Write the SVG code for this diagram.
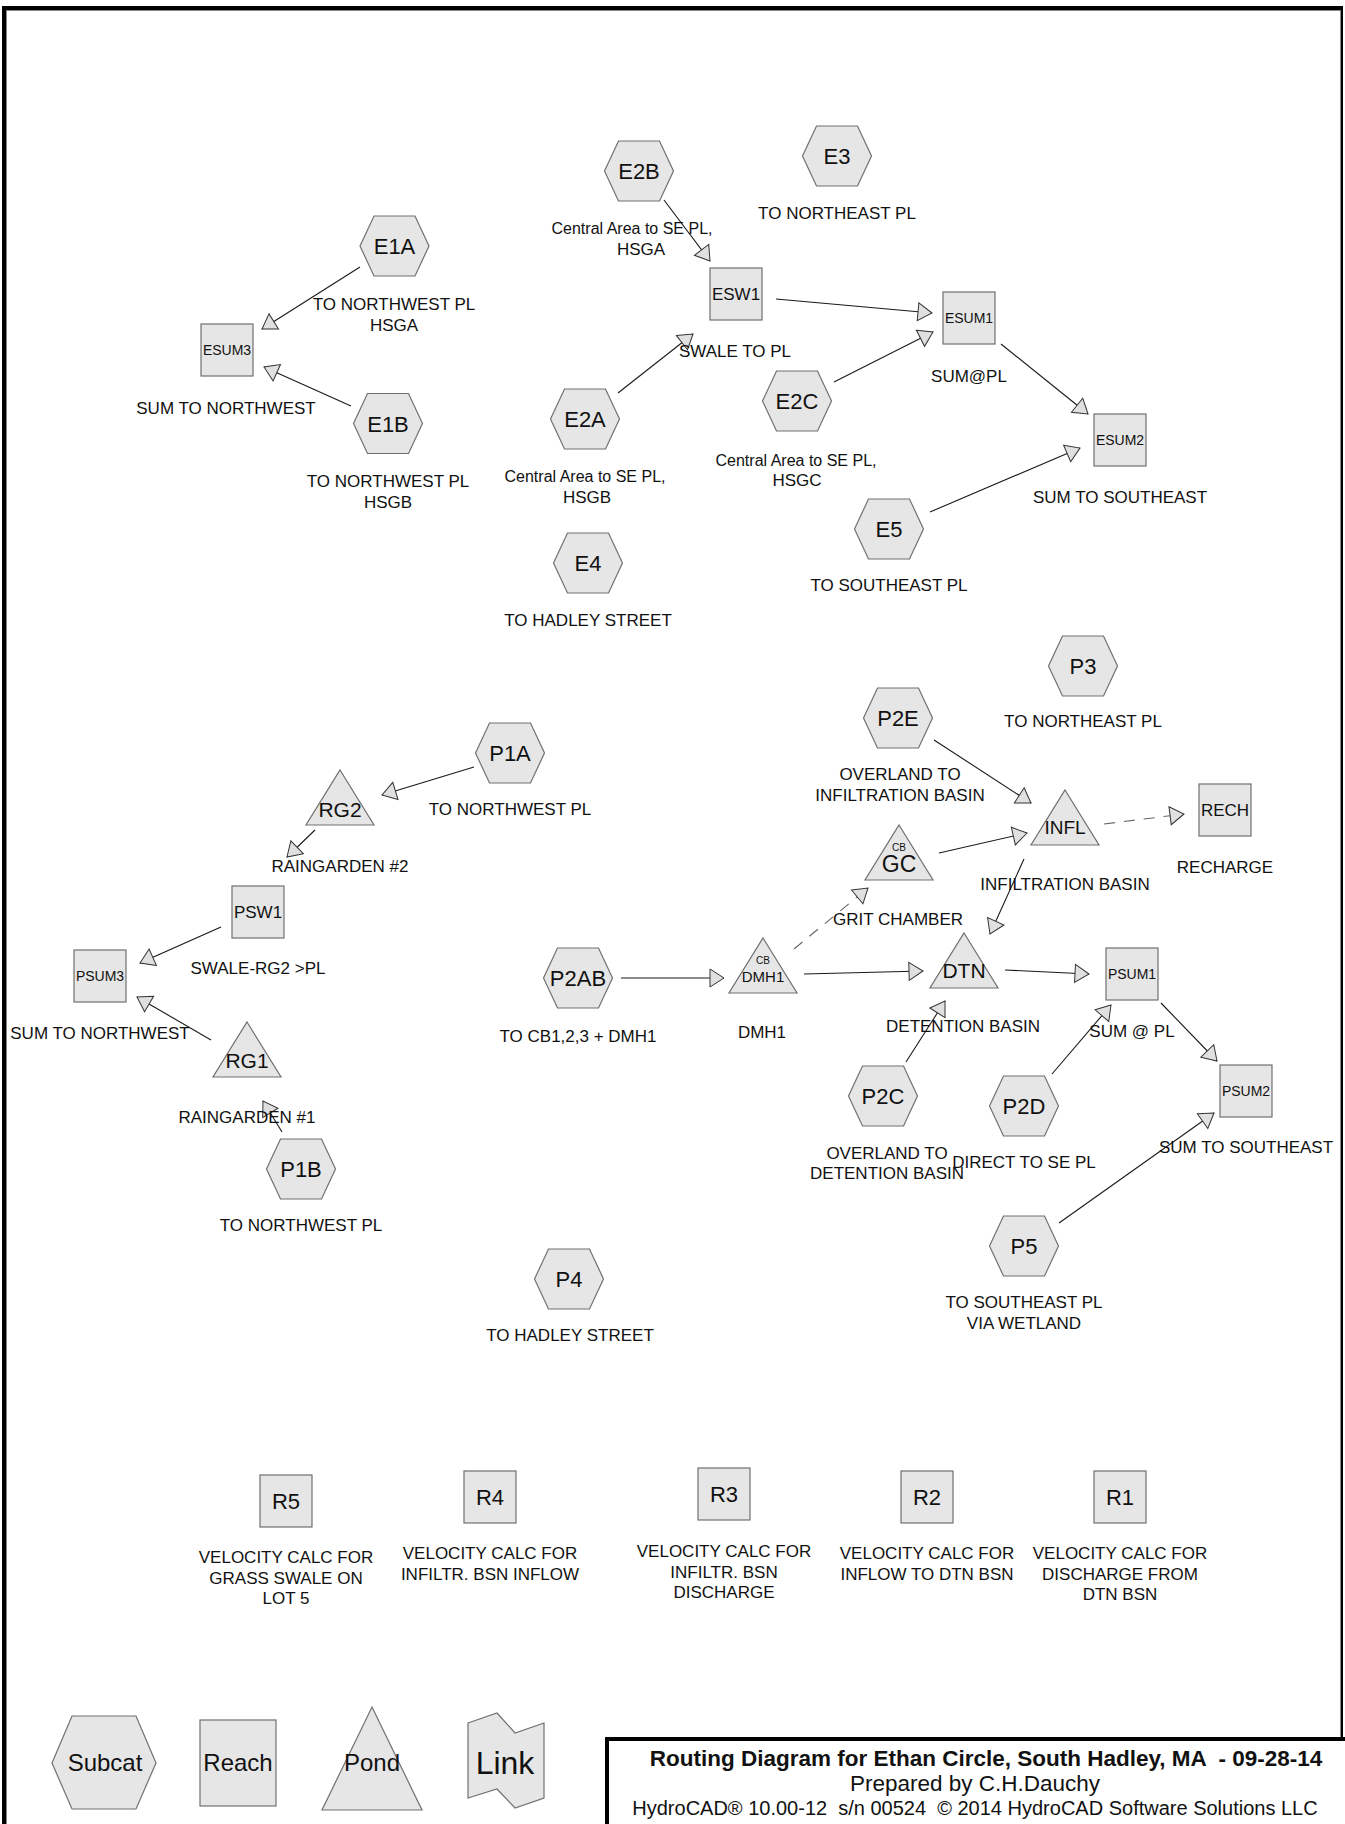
<svg xmlns="http://www.w3.org/2000/svg" xmlns:xlink="http://www.w3.org/1999/xlink" width="1345" height="1824" viewBox="0 0 1345 1824">
<style>
.t{font-family:"Liberation Sans",Arial,sans-serif;font-size:17px;text-anchor:middle;fill:#111}
.lc{font-size:16px}
.h{font-size:22px}
.s14{font-size:14px}
.s16{font-size:17px}
.s10{font-size:10px}
.c{stroke:#1a1a1a;stroke-width:1.1;fill:none;marker-end:url(#ah)}
.d{stroke:#666;stroke-dasharray:11 9}
.n{fill:#e6e6e6;stroke:#707070;stroke-width:1.2}
.lg{font-size:24px}
.tb{font-family:"Liberation Sans",Arial,sans-serif;text-anchor:middle;fill:#111;font-size:20px}
</style>
<defs>
<marker id="ah" markerUnits="userSpaceOnUse" viewBox="0 0 14 18" refX="14" refY="9" markerWidth="14" markerHeight="18" orient="auto" overflow="visible">
<path d="M0,0 L14,9 L0,18 Z" fill="#e0e0e0" stroke="#333" stroke-width="1"/>
</marker>
<polygon id="hex" points="-34.5,0 -20.5,-30 20.5,-30 34.5,0 20.5,30 -20.5,30" fill="#e6e6e6" stroke="#707070" stroke-width="1.2"/>
<rect id="sq" x="-26" y="-26" width="52" height="52" fill="#e6e6e6" stroke="#707070" stroke-width="1.2"/>
<polygon id="tri" points="0,0 34,55 -34,55" fill="#e6e6e6" stroke="#707070" stroke-width="1.2"/>
</defs>
<rect x="0" y="0" width="1345" height="1824" fill="#fff"/>
<!-- frame -->
<g id="frame">
<line x1="2" y1="8" x2="1343" y2="8" stroke="#000" stroke-width="4"/>
<line x1="4" y1="6" x2="4" y2="1824" stroke="#000" stroke-width="4"/>
<line x1="1342" y1="6" x2="1342" y2="1824" stroke="#000" stroke-width="2"/>
<line x1="6" y1="10.5" x2="1341" y2="10.5" stroke="#888" stroke-width="1"/>
<line x1="6.5" y1="10" x2="6.5" y2="1824" stroke="#888" stroke-width="1"/>
<line x1="1340.5" y1="10" x2="1340.5" y2="1824" stroke="#888" stroke-width="1"/>
</g>
<!-- connectors -->
<g id="connectors">
<line class="c" x1="360" y1="267" x2="262" y2="329"/>
<line class="c" x1="351" y1="406" x2="264" y2="367"/>
<line class="c" x1="664" y1="200" x2="710" y2="261"/>
<line class="c" x1="618" y1="393" x2="693" y2="334"/>
<line class="c" x1="776" y1="299" x2="932" y2="313"/>
<line class="c" x1="834" y1="382" x2="933" y2="332"/>
<line class="c" x1="1001" y1="344" x2="1088" y2="414"/>
<line class="c" x1="930" y1="512" x2="1080" y2="448"/>
<line class="c" x1="474" y1="767" x2="382" y2="795"/>
<line class="c" x1="315" y1="830" x2="287" y2="857"/>
<line class="c" x1="221" y1="927" x2="140" y2="963"/>
<line class="c" x1="211" y1="1040" x2="137" y2="997"/>
<line class="c" x1="282" y1="1132" x2="263" y2="1101"/>
<line class="c" x1="621" y1="978" x2="724" y2="978"/>
<line class="c d" x1="794" y1="949" x2="868" y2="888"/>
<line class="c" x1="804" y1="974" x2="923" y2="971"/>
<line class="c" x1="939" y1="853" x2="1027" y2="833"/>
<line class="c" x1="934" y1="740" x2="1031" y2="803"/>
<line class="c d" x1="1104" y1="824" x2="1184" y2="814"/>
<line class="c" x1="1024" y1="859" x2="990" y2="934"/>
<line class="c" x1="1005" y1="970" x2="1089" y2="974"/>
<line class="c" x1="906" y1="1062" x2="945" y2="1001"/>
<line class="c" x1="1052" y1="1074" x2="1111" y2="1005"/>
<line class="c" x1="1161" y1="1003" x2="1217" y2="1061"/>
<line class="c" x1="1059" y1="1223" x2="1214" y2="1113"/>
</g>
<!-- subcatchments -->
<g id="E1A"><use xlink:href="#hex" x="394.5" y="246"/><text class="t h" x="394.5" y="254">E1A</text><text class="t" x="394" y="310">TO NORTHWEST PL</text><text class="t" x="394" y="331">HSGA</text></g>
<g id="E1B"><use xlink:href="#hex" x="388" y="423.5"/><text class="t h" x="388" y="431.5">E1B</text><text class="t" x="388" y="487">TO NORTHWEST PL</text><text class="t" x="388" y="508">HSGB</text></g>
<g id="E2B"><use xlink:href="#hex" x="639" y="171"/><text class="t h" x="639" y="179">E2B</text><text class="t lc" x="632" y="234">Central Area to SE PL,</text><text class="t" x="641" y="255">HSGA</text></g>
<g id="E3"><use xlink:href="#hex" x="837" y="156"/><text class="t h" x="837" y="164">E3</text><text class="t" x="837" y="219">TO NORTHEAST PL</text></g>
<g id="E2A"><use xlink:href="#hex" x="585" y="419"/><text class="t h" x="585" y="427">E2A</text><text class="t lc" x="585" y="482">Central Area to SE PL,</text><text class="t" x="587" y="503">HSGB</text></g>
<g id="E2C"><use xlink:href="#hex" x="797" y="401"/><text class="t h" x="797" y="409">E2C</text><text class="t lc" x="796" y="466">Central Area to SE PL,</text><text class="t" x="797" y="486">HSGC</text></g>
<g id="E4"><use xlink:href="#hex" x="588" y="563"/><text class="t h" x="588" y="571">E4</text><text class="t" x="588" y="626">TO HADLEY STREET</text></g>
<g id="E5"><use xlink:href="#hex" x="889" y="529"/><text class="t h" x="889" y="537">E5</text><text class="t" x="889" y="591">TO SOUTHEAST PL</text></g>
<g id="P1A"><use xlink:href="#hex" x="510" y="753"/><text class="t h" x="510" y="761">P1A</text><text class="t" x="510" y="815">TO NORTHWEST PL</text></g>
<g id="P2AB"><use xlink:href="#hex" x="578" y="978"/><text class="t h" x="578" y="986">P2AB</text><text class="t" x="578" y="1042">TO CB1,2,3 + DMH1</text></g>
<g id="P1B"><use xlink:href="#hex" x="301" y="1169"/><text class="t h" x="301" y="1177">P1B</text><text class="t" x="301" y="1231">TO NORTHWEST PL</text></g>
<g id="P4"><use xlink:href="#hex" x="569" y="1279"/><text class="t h" x="569" y="1287">P4</text><text class="t" x="570" y="1341">TO HADLEY STREET</text></g>
<g id="P3"><use xlink:href="#hex" x="1083" y="666"/><text class="t h" x="1083" y="674">P3</text><text class="t" x="1083" y="727">TO NORTHEAST PL</text></g>
<g id="P2E"><use xlink:href="#hex" x="898" y="718"/><text class="t h" x="898" y="726">P2E</text><text class="t" x="900" y="780">OVERLAND TO</text><text class="t" x="900" y="801">INFILTRATION BASIN</text></g>
<g id="P2C"><use xlink:href="#hex" x="883" y="1096"/><text class="t h" x="883" y="1104">P2C</text><text class="t" x="887" y="1159">OVERLAND TO</text><text class="t" x="887" y="1179">DETENTION BASIN</text></g>
<g id="P2D"><use xlink:href="#hex" x="1024" y="1106"/><text class="t h" x="1024" y="1114">P2D</text><text class="t" x="1024" y="1168">DIRECT TO SE PL</text></g>
<g id="P5"><use xlink:href="#hex" x="1024" y="1246"/><text class="t h" x="1024" y="1254">P5</text><text class="t" x="1024" y="1308">TO SOUTHEAST PL</text><text class="t" x="1024" y="1329">VIA WETLAND</text></g>
<!-- reaches -->
<g id="ESUM3"><use xlink:href="#sq" x="227" y="350"/><text class="t s14" x="227" y="355">ESUM3</text><text class="t" x="226" y="414">SUM TO NORTHWEST</text></g>
<g id="ESW1"><use xlink:href="#sq" x="736" y="294"/><text class="t s16" x="736" y="300">ESW1</text><text class="t" x="735" y="357">SWALE TO PL</text></g>
<g id="ESUM1"><use xlink:href="#sq" x="969" y="318"/><text class="t s14" x="969" y="323">ESUM1</text><text class="t" x="969" y="382">SUM@PL</text></g>
<g id="ESUM2"><use xlink:href="#sq" x="1120" y="440"/><text class="t s14" x="1120" y="445">ESUM2</text><text class="t" x="1120" y="503">SUM TO SOUTHEAST</text></g>
<g id="PSW1"><use xlink:href="#sq" x="258" y="912"/><text class="t s16" x="258" y="918">PSW1</text><text class="t" x="258" y="974">SWALE-RG2 &gt;PL</text></g>
<g id="PSUM3"><use xlink:href="#sq" x="100" y="976"/><text class="t s14" x="100" y="981">PSUM3</text><text class="t" x="100" y="1039">SUM TO NORTHWEST</text></g>
<g id="PSUM1"><use xlink:href="#sq" x="1132" y="974"/><text class="t s14" x="1132" y="979">PSUM1</text><text class="t" x="1132" y="1037">SUM @ PL</text></g>
<g id="PSUM2"><use xlink:href="#sq" x="1246" y="1091"/><text class="t s14" x="1246" y="1096">PSUM2</text><text class="t" x="1246" y="1153">SUM TO SOUTHEAST</text></g>
<g id="RECH"><use xlink:href="#sq" x="1225" y="810"/><text class="t s16" x="1225" y="816">RECH</text><text class="t" x="1225" y="873">RECHARGE</text></g>
<g id="R5"><use xlink:href="#sq" x="286" y="1501"/><text class="t h" x="286" y="1509">R5</text><text class="t" x="286" y="1563">VELOCITY CALC FOR</text><text class="t" x="286" y="1584">GRASS SWALE ON</text><text class="t" x="286" y="1604">LOT 5</text></g>
<g id="R4"><use xlink:href="#sq" x="490" y="1497"/><text class="t h" x="490" y="1505">R4</text><text class="t" x="490" y="1559">VELOCITY CALC FOR</text><text class="t" x="490" y="1580">INFILTR. BSN INFLOW</text></g>
<g id="R3"><use xlink:href="#sq" x="724" y="1494"/><text class="t h" x="724" y="1502">R3</text><text class="t" x="724" y="1557">VELOCITY CALC FOR</text><text class="t" x="724" y="1578">INFILTR. BSN</text><text class="t" x="724" y="1598">DISCHARGE</text></g>
<g id="R2"><use xlink:href="#sq" x="927" y="1497"/><text class="t h" x="927" y="1505">R2</text><text class="t" x="927" y="1559">VELOCITY CALC FOR</text><text class="t" x="927" y="1580">INFLOW TO DTN BSN</text></g>
<g id="R1"><use xlink:href="#sq" x="1120" y="1497"/><text class="t h" x="1120" y="1505">R1</text><text class="t" x="1120" y="1559">VELOCITY CALC FOR</text><text class="t" x="1120" y="1580">DISCHARGE FROM</text><text class="t" x="1120" y="1600">DTN BSN</text></g>
<!-- ponds -->
<g id="RG2"><use xlink:href="#tri" x="340" y="770"/><text class="t" style="font-size:21px" x="340" y="817">RG2</text><text class="t" x="340" y="872">RAINGARDEN #2</text></g>
<g id="RG1"><use xlink:href="#tri" x="247" y="1022"/><text class="t" style="font-size:21px" x="247" y="1068">RG1</text><text class="t" x="247" y="1123">RAINGARDEN #1</text></g>
<g id="GC"><use xlink:href="#tri" x="899" y="825"/><text class="t s10" x="899" y="851">CB</text><text class="t" style="font-size:23px" x="899" y="872">GC</text><text class="t" x="898" y="925">GRIT CHAMBER</text></g>
<g id="INFL"><use xlink:href="#tri" x="1065" y="790"/><text class="t" style="font-size:19px" x="1065" y="834">INFL</text><text class="t" x="1065" y="890">INFILTRATION BASIN</text></g>
<g id="DMH1"><use xlink:href="#tri" x="763" y="938"/><text class="t s10" x="763" y="964">CB</text><text class="t" style="font-size:15px" x="763" y="982">DMH1</text><text class="t" x="762" y="1038">DMH1</text></g>
<g id="DTN"><use xlink:href="#tri" x="964" y="933"/><text class="t" style="font-size:21px" x="964" y="978">DTN</text><text class="t" x="963" y="1032">DETENTION BASIN</text></g>
<!-- legend -->
<g id="legend">
<polygon class="n" points="52,1763 72,1716 136,1716 156,1763 136,1809 72,1809"/>
<text class="t lg" x="105" y="1771">Subcat</text>
<rect class="n" x="200" y="1720" width="76" height="86"/>
<text class="t lg" x="238" y="1771">Reach</text>
<polygon class="n" points="372,1707 422,1810 322,1810"/>
<text class="t lg" x="372" y="1771">Pond</text>
<polygon class="n" points="468,1723 497,1713 515,1733 544,1723 544,1798 515,1808 497,1789 468,1798"/>
<text class="t" style="font-size:32px" x="505" y="1774">Link</text>
</g>
<!-- title block -->
<g id="title">
<rect x="607" y="1739" width="740" height="100" fill="#fff" stroke="#000" stroke-width="4"/>
<text class="tb" x="986" y="1766" style="font-weight:bold;font-size:22.5px" xml:space="preserve">Routing Diagram for Ethan Circle, South Hadley, MA  - 09-28-14</text>
<text class="tb" x="975" y="1791" style="font-size:22.5px">Prepared by C.H.Dauchy</text>
<text class="tb" x="975" y="1815" xml:space="preserve">HydroCAD® 10.00-12  s/n 00524  © 2014 HydroCAD Software Solutions LLC</text>
</g>
</svg>
